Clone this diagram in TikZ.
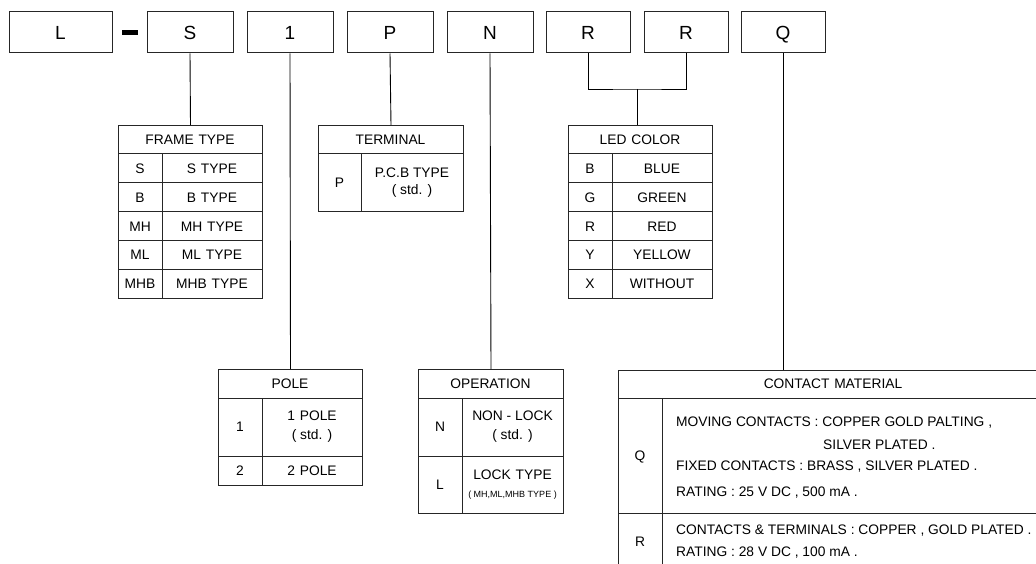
\documentclass[tikz,border=0pt]{standalone}
\usepackage{fontspec}
\setmainfont{Liberation Sans}
\begin{document}
\begin{tikzpicture}[x=1pt,y=-1pt,
  topbox/.style={draw=black!85, line width=1pt, minimum width=86pt, minimum height=41pt, inner sep=0pt, text height=13.7pt, text depth=0pt, font=\fontsize{19}{21}\selectfont},
  tbl/.style={draw=black!85, line width=1pt, inner sep=0pt, anchor=north west},
  grid/.style={draw=black!85, line width=1pt},
  conn/.style={draw=black, line width=0.9pt},
  txt/.style={inner sep=0pt, font=\fontsize{13.8}{15}\selectfont},
  ltxt/.style={txt, anchor=west},
  small/.style={inner sep=0pt, font=\fontsize{9}{10}\selectfont}
]
\useasboundingbox (0,0) rectangle (1036,564);
\clip (0,0) rectangle (1036,564);
\def\sp{\hspace{0.35em}}
% top row
\node[topbox, minimum width=103pt] (bL) at (60.5,32.5) {L};
\node[fill=black, inner sep=0pt, minimum width=16pt, minimum height=5pt] (dash) at (130,32.5) {};
\node[topbox] (bS) at (190,32.5) {S};
\node[topbox] (b1) at (290,32.5) {1};
\node[topbox] (bP) at (390,32.5) {P};
\node[topbox] (bN) at (490,32.5) {N};
\node[topbox, minimum width=84pt] (bR1) at (588,32.5) {R};
\node[topbox, minimum width=84pt] (bR2) at (686,32.5) {R};
\node[topbox, minimum width=84pt] (bQ) at (783,32.5) {Q};

% FRAME TYPE table
\node[tbl, minimum width=144pt, minimum height=173pt] (frame) at (118,125) {};
\foreach \y in {154,183,212,241,269} \draw[grid] (118,\y) -- (262,\y);
\draw[grid] (162,154) -- (162,298);
\node[txt] (fh) at (190,139.5) {FRAME\sp TYPE};
\node[txt] (f1a) at (140,168.5) {S};   \node[txt] (f1b) at (212,168.5) {S\sp TYPE};
\node[txt] (f2a) at (140,197.5) {B};   \node[txt] (f2b) at (212,197.5) {B\sp TYPE};
\node[txt] (f3a) at (140,226.5) {MH};  \node[txt] (f3b) at (212,226.5) {MH\sp TYPE};
\node[txt] (f4a) at (140,255) {ML};    \node[txt] (f4b) at (212,255) {ML\sp TYPE};
\node[txt] (f5a) at (140,283.5) {MHB}; \node[txt] (f5b) at (212,283.5) {MHB\sp TYPE};

% TERMINAL table
\node[tbl, minimum width=145pt, minimum height=86pt] (term) at (318,125) {};
\draw[grid] (318,154) -- (463,154);
\draw[grid] (361,154) -- (361,211);
\node[txt] (th) at (390.5,139.5) {TERMINAL};
\node[txt] (t1a) at (339.5,182.5) {P};
\node[txt] (t1b) at (412,173) {P.C.B TYPE};
\node[txt] (t1c) at (412,191) {( std. )};

% LED COLOR table
\node[tbl, minimum width=144pt, minimum height=173pt] (led) at (568,125) {};
\foreach \y in {154,183,212,241,269} \draw[grid] (568,\y) -- (712,\y);
\draw[grid] (612,154) -- (612,298);
\node[txt] (lh) at (640,139.5) {LED\sp COLOR};
\node[txt] (l1a) at (590,168.5) {B}; \node[txt] (l1b) at (662,168.5) {BLUE};
\node[txt] (l2a) at (590,197.5) {G}; \node[txt] (l2b) at (662,197.5) {GREEN};
\node[txt] (l3a) at (590,226.5) {R}; \node[txt] (l3b) at (662,226.5) {RED};
\node[txt] (l4a) at (590,255) {Y};   \node[txt] (l4b) at (662,255) {YELLOW};
\node[txt] (l5a) at (590,283.5) {X}; \node[txt] (l5b) at (662,283.5) {WITHOUT};

% POLE table
\node[tbl, minimum width=144pt, minimum height=116pt] (pole) at (218,369) {};
\draw[grid] (218,398) -- (362,398);
\draw[grid] (218,456) -- (362,456);
\draw[grid] (262,398) -- (262,485);
\node[txt] (ph) at (290,383.5) {POLE};
\node[txt] (p1a) at (240,427) {1};
\node[txt] (p1b) at (312,416) {1\sp POLE};
\node[txt] (p1c) at (312,436) {( std. )};
\node[txt] (p2a) at (240,470.5) {2};
\node[txt] (p2b) at (312,470.5) {2\sp POLE};

% OPERATION table
\node[tbl, minimum width=145pt, minimum height=144pt] (oper) at (418,369) {};
\draw[grid] (418,398) -- (563,398);
\draw[grid] (418,456) -- (563,456);
\draw[grid] (462,398) -- (462,513);
\node[txt] (oh) at (490.5,383.5) {OPERATION};
\node[txt] (o1a) at (440,427) {N};
\node[txt] (o1b) at (512.5,416) {NON - LOCK};
\node[txt] (o1c) at (512.5,436) {( std. )};
\node[txt] (o2a) at (440,485) {L};
\node[txt] (o2b) at (512.5,475) {LOCK\sp TYPE};
\node[small] (o2c) at (512.5,495) {( MH,ML,MHB TYPE )};

% CONTACT MATERIAL table
\node[tbl, minimum width=430pt, minimum height=220pt] (cont) at (618,370) {};
\draw[grid] (618,398) -- (1048,398);
\draw[grid] (618,513) -- (1048,513);
\draw[grid] (662,398) -- (662,590);
\node[txt] (ch) at (833,384) {CONTACT\sp MATERIAL};
\node[txt] (cqa) at (640,457) {Q};
\node[ltxt] (cq1) at (676,423) {MOVING CONTACTS : COPPER GOLD PALTING ,};
\node[ltxt] (cq2) at (823,445) {SILVER PLATED .};
\node[ltxt] (cq3) at (676,467) {FIXED CONTACTS : BRASS , SILVER PLATED .};
\node[ltxt] (cq4) at (676,493) {RATING : 25 V DC , 500 mA .};
\node[txt] (cra) at (640,542) {R};
\node[ltxt] (cr1) at (676,531) {CONTACTS \& TERMINALS : COPPER , GOLD PLATED .};
\node[ltxt] (cr2) at (676,553) {RATING : 28 V DC , 100 mA .};

% connectors
\draw[conn] (bS.south) -- (frame.north);
\draw[conn] (b1.south) -- (pole.north);
\draw[conn] (bP.south) -- (term.north);
\draw[conn] (bN.south) -- (oper.north);
\coordinate (rj) at (637,89);
\draw[conn] (bR1.south) |- (rj) -| (bR2.south);
\draw[conn] (rj) -- (rj |- led.north);
\draw[conn] (bQ.south) -- (bQ.south |- cont.north);
\end{tikzpicture}
\end{document}
